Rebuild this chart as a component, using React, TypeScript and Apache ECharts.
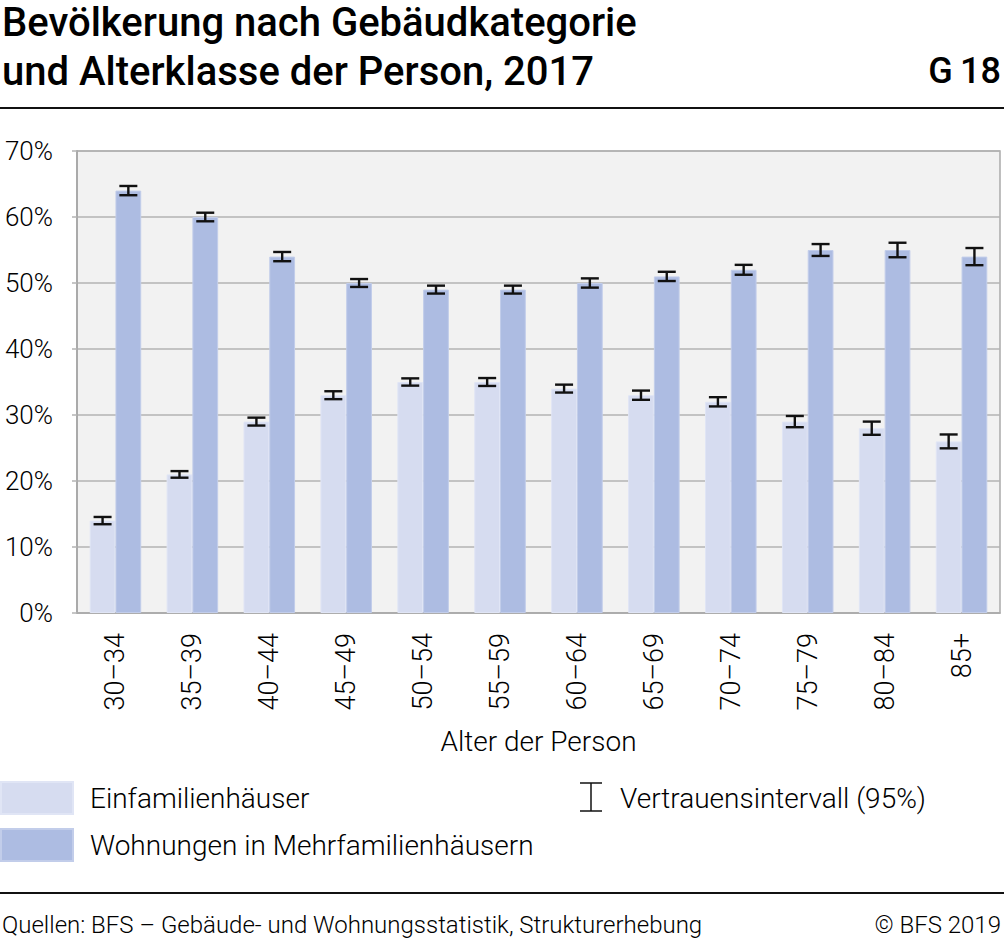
import React, { useEffect, useRef } from "react";
import * as echarts from "echarts";

const categories = ["30–34", "35–39", "40–44", "45–49", "50–54", "55–59", "60–64", "65–69", "70–74", "75–79", "80–84", "85+"];
const einfamilien = [14, 21, 29, 33, 35, 35, 34, 33, 32, 29, 28, 26];
const einfamilienErr = [0.55, 0.5, 0.6, 0.6, 0.55, 0.6, 0.6, 0.7, 0.7, 0.85, 1.0, 1.05];
const mehrfamilien = [64, 60, 54, 50, 49, 49, 50, 51, 52, 55, 55, 54];
const mehrfamilienErr = [0.7, 0.65, 0.7, 0.6, 0.6, 0.6, 0.7, 0.7, 0.75, 0.9, 1.1, 1.3];
const yTicks = [0, 10, 20, 30, 40, 50, 60, 70];

const FONT = "Roboto";
const LIGHT = "#d6dcf0";
const DARK = "#adbce2";
const GAP = 0.33;

function errorSeries(values: number[], errs: number[], side: number) {
  return {
    type: "custom",
    silent: true,
    z: 10,
    data: values.map((v, i) => [i, v - errs[i], v + errs[i]]),
    renderItem: (params: any, api: any) => {
      const band = api.size([1, 0])[0];
      const barW = (band * (1 - GAP)) / 2;
      const cx = api.coord([api.value(0), 0])[0] + side * barW / 2;
      const yLo = api.coord([api.value(0), api.value(1)])[1];
      const yHi = api.coord([api.value(0), api.value(2)])[1];
      const hw = 9;
      const style = { stroke: "#111", lineWidth: 2.4 };
      return {
        type: "group",
        children: [
          { type: "line", shape: { x1: cx, y1: yLo, x2: cx, y2: yHi }, style },
          { type: "line", shape: { x1: cx - hw, y1: yLo, x2: cx + hw, y2: yLo }, style },
          { type: "line", shape: { x1: cx - hw, y1: yHi, x2: cx + hw, y2: yHi }, style },
        ],
      };
    },
  };
}

export default function App() {
  const ref = useRef<HTMLDivElement>(null);
  useEffect(() => {
    document.body.style.margin = "0";
    const chart = echarts.init(ref.current!, undefined, { renderer: "svg" });
    chart.setOption({
      animation: false,
      backgroundColor: "#fff",
      textStyle: { fontFamily: FONT },
      grid: {
        left: 77,
        right: 4,
        top: 151,
        bottom: 328,
        show: true,
        backgroundColor: "#f2f2f2",
        borderColor: "#aaaaaa",
        borderWidth: 1.5,
      },
      legend: {
        orient: "vertical",
        left: 0,
        top: 781,
        itemWidth: 72,
        itemHeight: 32,
        itemGap: 13,
        padding: 0,
        icon: "rect",
        selectedMode: false,
        textStyle: { fontFamily: FONT, fontWeight: 300, fontSize: 28, color: "#000", padding: [0, 0, 0, 12] },
        data: ["Einfamilienhäuser", "Wohnungen in Mehrfamilienhäusern"],
      },
      xAxis: {
        type: "category",
        data: categories,
        name: "Alter der Person",
        nameLocation: "middle",
        nameGap: 114,
        nameTextStyle: { fontFamily: FONT, fontWeight: 300, fontSize: 28, color: "#000" },
        axisLine: { show: true, lineStyle: { color: "#aaaaaa", width: 1.5 } },
        axisTick: { show: false },
        axisLabel: { rotate: 90, margin: 20, fontFamily: FONT, fontWeight: 300, fontSize: 27, color: "#000" },
      },
      yAxis: {
        type: "value",
        min: yTicks[0],
        max: yTicks[yTicks.length - 1],
        interval: 10,
        axisLine: { show: true, lineStyle: { color: "#aaaaaa", width: 2 } },
        axisTick: { show: true, length: 5, lineStyle: { color: "#b3b3b3", width: 1.5 } },
        splitLine: { show: true, lineStyle: { color: "#b3b3b3", width: 1.5 } },
        axisLabel: { formatter: "{value}%", margin: 24, fontFamily: FONT, fontWeight: 300, fontSize: 26, color: "#000" },
      },
      series: [
        {
          name: "Einfamilienhäuser",
          type: "bar",
          data: einfamilien,
          barGap: "0%",
          barCategoryGap: "33%",
          itemStyle: { color: LIGHT, borderColor: "#e0e5f5", borderWidth: 1 },
        },
        {
          name: "Wohnungen in Mehrfamilienhäusern",
          type: "bar",
          data: mehrfamilien,
          barGap: "0%",
          barCategoryGap: "33%",
          itemStyle: { color: DARK, borderColor: "#c2cdea", borderWidth: 1 },
        },
        errorSeries(einfamilien, einfamilienErr, -1),
        errorSeries(mehrfamilien, mehrfamilienErr, 1),
      ],
      graphic: [
        { type: "text", x: 2, y: 22, style: { text: "Bevölkerung nach Gebäudkategorie", verticalAlign: "middle", fontFamily: FONT, fontWeight: 500, fontSize: 40, fill: "#000" } },
        { type: "text", x: 2, y: 71, style: { text: "und Alterklasse der Person, 2017", verticalAlign: "middle", fontFamily: FONT, fontWeight: 500, fontSize: 40, fill: "#000" } },
        { type: "text", x: 1001, y: 71, style: { text: "G\u200918", align: "right", verticalAlign: "middle", fontFamily: FONT, fontWeight: 500, fontSize: 36, fill: "#000" } },
        { type: "line", shape: { x1: 0, y1: 108, x2: 1004, y2: 108 }, style: { stroke: "#111", lineWidth: 2 } },
        { type: "line", shape: { x1: 0, y1: 893, x2: 1004, y2: 893 }, style: { stroke: "#111", lineWidth: 2 } },
        { type: "line", shape: { x1: 591, y1: 783, x2: 591, y2: 811 }, style: { stroke: "#111", lineWidth: 1.5 } },
        { type: "line", shape: { x1: 580, y1: 783, x2: 602, y2: 783 }, style: { stroke: "#111", lineWidth: 1.5 } },
        { type: "line", shape: { x1: 580, y1: 811, x2: 602, y2: 811 }, style: { stroke: "#111", lineWidth: 1.5 } },
        { type: "text", x: 620, y: 798, style: { text: "Vertrauensintervall (95%)", verticalAlign: "middle", fontFamily: FONT, fontWeight: 300, fontSize: 28, fill: "#000" } },
        { type: "text", x: 2, y: 925, style: { text: "Quellen: BFS – Gebäude- und Wohnungsstatistik, Strukturerhebung", verticalAlign: "middle", fontFamily: FONT, fontWeight: 300, fontSize: 24, fill: "#000" } },
        { type: "text", x: 1001, y: 925, style: { text: "© BFS 2019", align: "right", verticalAlign: "middle", fontFamily: FONT, fontWeight: 300, fontSize: 24, fill: "#000" } },
      ],
    });
    return () => chart.dispose();
  }, []);
  return <div ref={ref} style={{ width: 1004, height: 941 }} />;
}
